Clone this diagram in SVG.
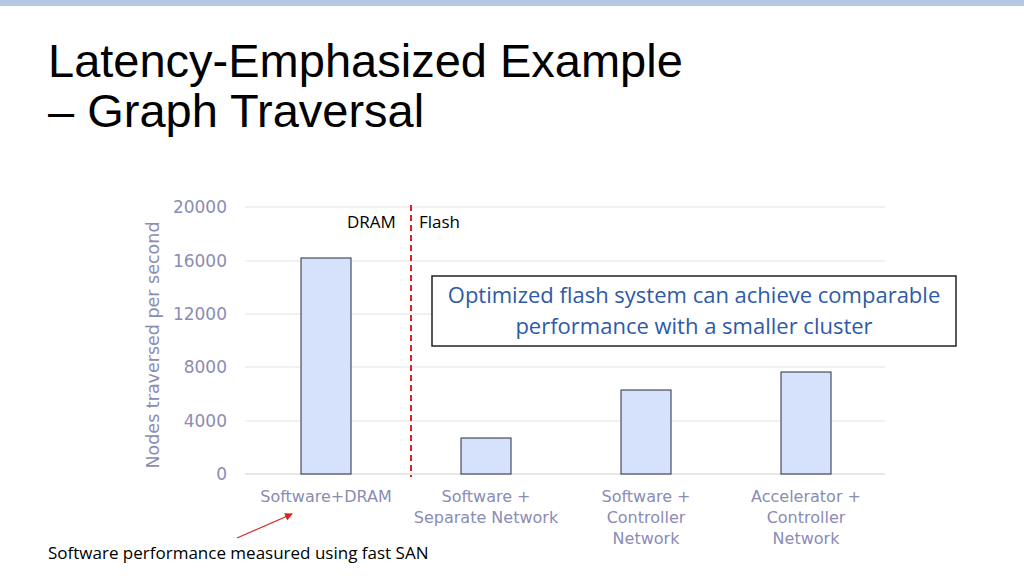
<svg xmlns="http://www.w3.org/2000/svg" width="1024" height="576" viewBox="0 0 1024 576">
<style>
.t{font-family:"Liberation Sans",Arial,sans-serif;font-size:47px;fill:#000}
.ax{font-family:"DejaVu Sans",Verdana,sans-serif;font-size:16px;fill:#8a8cb4}
.grid{stroke:#e2e2e2;stroke-width:1}
.bar{fill:#d6e2fb;stroke:#2b2b3b;stroke-width:1}
.lab{font-family:"Open Sans","Noto Sans",sans-serif;font-size:17px;fill:#000}
.call{font-family:"Open Sans","Noto Sans",sans-serif;font-size:22px;fill:#2e5aa8}
</style>
<defs><marker id="ah" markerWidth="8" markerHeight="8" refX="7" refY="4" orient="auto" markerUnits="userSpaceOnUse"><path d="M0,0 L8,4 L0,8z" fill="#e02020"/></marker></defs>
<rect x="0" y="0" width="1024" height="6" fill="#b4c7e7"/>
<text class="t" x="48" y="77">Latency-Emphasized Example</text>
<text class="t" x="48" y="127">– Graph Traversal</text>
<g id="grid">
<line class="grid" x1="245" y1="207" x2="885" y2="207"/>
<line class="grid" x1="245" y1="261" x2="885" y2="261"/>
<line class="grid" x1="245" y1="314" x2="885" y2="314"/>
<line class="grid" x1="245" y1="367" x2="885" y2="367"/>
<line class="grid" x1="245" y1="421" x2="885" y2="421"/>
<line x1="245" y1="474" x2="885" y2="474" stroke="#d0d0d0"/>
</g>
<g id="yaxis" class="ax" text-anchor="end">
<text x="227" y="213" font-size="17">20000</text><text x="227" y="267" font-size="17">16000</text><text x="227" y="320" font-size="17">12000</text>
<text x="227" y="373" font-size="17">8000</text><text x="227" y="427" font-size="17">4000</text><text x="227" y="480" font-size="17">0</text>
<text x="159" y="345" font-size="17.5" text-anchor="middle" transform="rotate(-90 159 345)">Nodes traversed per second</text>
</g>
<g id="bars">
<rect class="bar" x="301" y="258" width="50" height="216"/>
<rect class="bar" x="461" y="438" width="50" height="36"/>
<rect class="bar" x="621" y="390" width="50" height="84"/>
<rect class="bar" x="781" y="372" width="50" height="102"/>
</g>
<g id="xaxis" class="ax" text-anchor="middle">
<text x="326" y="502">Software+DRAM</text>
<text x="486" y="502">Software +</text><text x="486" y="523">Separate Network</text>
<text x="646" y="502">Software +</text><text x="646" y="523">Controller</text><text x="646" y="544">Network</text>
<text x="806" y="502">Accelerator +</text><text x="806" y="523">Controller</text><text x="806" y="544">Network</text>
</g>
<line x1="411" y1="205" x2="411" y2="477" stroke="#e02020" stroke-width="2" stroke-dasharray="6,4"/>
<text class="lab" x="347" y="228">DRAM</text><text class="lab" x="419" y="228">Flash</text>
<g id="callout">
<rect x="432" y="276" width="524" height="70" fill="#fff" stroke="#222" stroke-width="1.5"/>
<text class="call" x="694" y="303" text-anchor="middle">Optimized flash system can achieve comparable</text>
<text class="call" x="694" y="334" text-anchor="middle">performance with a smaller cluster</text>
</g>
<g id="connectors"><line x1="237" y1="538" x2="292" y2="514" stroke="#e02020" stroke-width="1.2" marker-end="url(#ah)"/></g>
<text class="lab" x="48" y="559" font-size="15.6">Software performance measured using fast SAN</text>
</svg>
